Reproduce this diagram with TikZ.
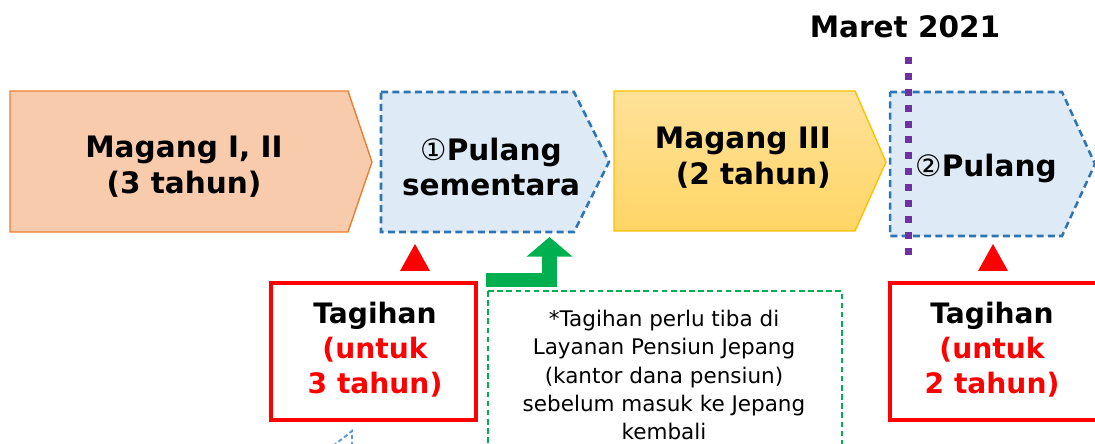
\documentclass[tikz,border=0pt]{standalone}
\usepackage{fontspec}
\setmainfont{DejaVu Sans}
\newfontfamily\circfont{DejaVu Sans}
\usetikzlibrary{arrows.meta,positioning}
\definecolor{orfill}{HTML}{F8CBAD}
\definecolor{ordraw}{HTML}{ED7D31}
\definecolor{blfill}{HTML}{DEEBF7}
\definecolor{bldraw}{HTML}{2E75B6}
\definecolor{yetop}{HTML}{FFE29A}
\definecolor{yebot}{HTML}{FFD565}
\definecolor{yedraw}{HTML}{FFC000}
\definecolor{grn}{HTML}{00B050}
\definecolor{purp}{HTML}{7030A0}
\definecolor{tipblue}{HTML}{5B9BD5}
\newcommand{\bigtxt}{\fontsize{21}{25.5}\selectfont\bfseries}
\newcommand{\tagtxt}{\fontsize{20}{25}\selectfont\bfseries}
\newcommand{\circd}[1]{{\circfont\mdseries #1}}

\begin{document}
\begin{tikzpicture}[x=0.025cm,y=-0.025cm,line join=miter,
            orstage/.style={draw=ordraw,fill=orfill,line width=1pt},
            blstage/.style={draw=bldraw,fill=blfill,line width=1.8pt,dash pattern=on 5pt off 3pt},
            yestage/.style={draw=yedraw,top color=yetop,bottom color=yebot,line width=1pt},
            lbl/.style={font=\bigtxt,align=center,inner sep=0pt},
            taglbl/.style={font=\tagtxt,align=center,inner sep=0pt},
            tagbox/.style={draw=red,line width=2.8pt},
            marker/.style={fill=red},
            notebox/.style={draw=grn,line width=1.4pt,dash pattern=on 4pt off 2.5pt}]
            \useasboundingbox (0,0) rectangle (1095,444);
            \clip (0,0) rectangle (1095,444);

            % the four stages
            \draw[orstage] (10,91) -- (348,91) -- (372,162) -- (348,232) -- (10,232) -- cycle;
            \draw[blstage] (381,92) -- (574,92) -- (609,162) -- (574,232) -- (381,232) -- cycle;
            \draw[yestage] (614,91) -- (855,91) -- (886,162) -- (855,231) -- (614,231) -- cycle;
            \draw[blstage] (890,92) -- (1062,92) -- (1095,164) -- (1062,236) -- (890,236) -- cycle;

            \node[lbl] (mag12) at (184,167) {Magang I, II\\(3 tahun)};
            \node[lbl] (pul1)  at (491,167) {\circd{①}Pulang\\sementara};
            \node[lbl,align=right,anchor=east] (mag3) at (831,158) {Magang III\\(2 tahun)};
            \node[lbl] (pul2)  at (986,168) {\circd{②}Pulang};

            % March 2021 line
            \node[font=\fontsize{21}{25}\selectfont\bfseries,inner sep=0pt] (maret) at (905,27) {Maret 2021};
            \coordinate (mtop) at (908,57);
            \coordinate (mbot) at (908,258);
            \draw[purp,line width=5pt,dash pattern=on 5pt off 6.3pt] (mtop) -- (mbot);

            % claims
            \fill[marker] (400,271) -- (430,271) -- (415,244) -- cycle;
            \fill[marker] (978,271) -- (1008,271) -- (993,244) -- cycle;
            \draw[tagbox] (271,283) rectangle (476,420);
            \draw[tagbox] (890,283) rectangle (1110,420);
            \node[taglbl] (tag1) at (375,350) {Tagihan\\\textcolor{red}{(untuk}\\\textcolor{red}{3 tahun)}};
            \node[taglbl] (tag2) at (992,350) {Tagihan\\\textcolor{red}{(untuk}\\\textcolor{red}{2 tahun)}};

            % note
            \draw[notebox] (488,291) rectangle (842,470);
            \node[font=\fontsize{15.3}{20.2}\selectfont,align=center,inner sep=0pt] (note) at (664,375)
                {*Tagihan perlu tiba di\\Layanan Pensiun Jepang\\(kantor dana pensiun)\\sebelum masuk ke Jepang\\kembali};
            \coordinate (gstart) at (486,280);
            \coordinate (gend) at (549.5,237);
            \draw[grn,line width=10pt,-{Triangle[width=32pt,length=14pt]}] (gstart) -| (gend);

            % cut-off callout tail
            \draw[tipblue,line width=1.4pt,dash pattern=on 3pt off 2pt] (333,446) -- (352,431) -- (352,446);
\end{tikzpicture}
\end{document}
